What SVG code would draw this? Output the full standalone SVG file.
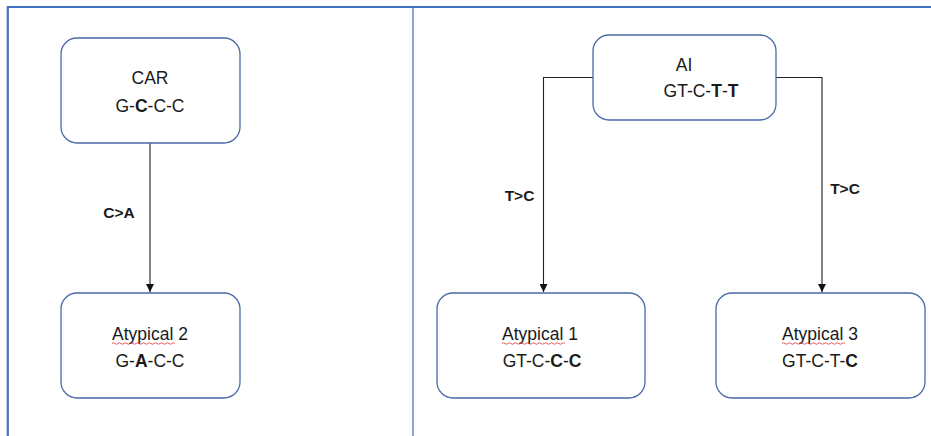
<svg xmlns="http://www.w3.org/2000/svg" width="931" height="436" viewBox="0 0 931 436">
  <style>
    .node { fill: #ffffff; stroke: #4a6aa8; stroke-width: 1.3; }
    .frame { stroke: #4472c4; stroke-width: 2.2; fill: none; }
    .divider { stroke: #6f8fcc; stroke-width: 1.6; fill: none; }
    .edge { stroke: #222222; stroke-width: 1.1; fill: none; }
    text { font-family: "Liberation Sans", Arial, sans-serif; font-size: 17.5px; fill: #1a1a1a; text-anchor: middle; }
    .b { font-weight: bold; }
    .lbl { font-weight: bold; font-size: 15.5px; }
    .squig { stroke: #e03030; stroke-width: 0.8; fill: none; }
  </style>
  <defs>
    <marker id="arrow" viewBox="0 0 10 10" refX="10" refY="5" markerWidth="11" markerHeight="8" orient="auto" markerUnits="userSpaceOnUse">
      <path d="M0,0 L10,5 L0,10 z" fill="#111111"/>
    </marker>
  </defs>

  <rect width="931" height="436" fill="#ffffff"/>

  <!-- page frame and column divider -->
  <path class="frame" d="M7.8,436 V7 H931"/>
  <line class="divider" x1="413" y1="8" x2="413" y2="436"/>

  <!-- connectors -->
  <g id="connectors">
    <line class="edge" x1="150" y1="143" x2="150" y2="292" marker-end="url(#arrow)"/>
    <polyline class="edge" points="593,77.5 543.5,77.5 543.5,292" marker-end="url(#arrow)"/>
    <polyline class="edge" points="776,77.5 822,77.5 822,292" marker-end="url(#arrow)"/>
    <text class="lbl" x="119" y="218">C&gt;A</text>
    <text class="lbl" x="519.5" y="200.5">T&gt;C</text>
    <text class="lbl" x="845" y="193.5">T&gt;C</text>
  </g>

  <g id="car">
    <rect class="node" x="61" y="38" width="179" height="105" rx="16"/>
    <text x="150" y="84">CAR</text>
    <text x="150" y="111.5">G-<tspan class="b">C</tspan>-C-C</text>
  </g>

  <g id="atypical2">
    <rect class="node" x="61" y="293" width="179" height="105" rx="16"/>
    <text x="150" y="340">Atypical 2</text>
    <path class="squig" d="M112,343.5 q1.5,-1.5 3,0 t3,0 t3,0 t3,0 t3,0 t3,0 t3,0 t3,0 t3,0 t3,0 t3,0 t3,0 t3,0 t3,0 t3,0 t3,0 t3,0 t3,0 t3,0 t3,0 t3,0"/>
    <text x="150" y="366.5">G-<tspan class="b">A</tspan>-C-C</text>
  </g>

  <g id="ai">
    <rect class="node" x="593" y="35" width="183" height="85" rx="16"/>
    <text x="684" y="70.5">AI</text>
    <text x="701" y="96.5">GT-C-<tspan class="b">T</tspan>-<tspan class="b">T</tspan></text>
  </g>

  <g id="atypical1">
    <rect class="node" x="437" y="293" width="208" height="105" rx="16"/>
    <text x="540" y="340">Atypical 1</text>
    <path class="squig" d="M502,343.5 q1.5,-1.5 3,0 t3,0 t3,0 t3,0 t3,0 t3,0 t3,0 t3,0 t3,0 t3,0 t3,0 t3,0 t3,0 t3,0 t3,0 t3,0 t3,0 t3,0 t3,0 t3,0 t3,0"/>
    <text x="542" y="366.5">GT-C-<tspan class="b">C</tspan>-<tspan class="b">C</tspan></text>
  </g>

  <g id="atypical3">
    <rect class="node" x="716" y="293" width="209" height="105" rx="16"/>
    <text x="820" y="340">Atypical 3</text>
    <path class="squig" d="M782,343.5 q1.5,-1.5 3,0 t3,0 t3,0 t3,0 t3,0 t3,0 t3,0 t3,0 t3,0 t3,0 t3,0 t3,0 t3,0 t3,0 t3,0 t3,0 t3,0 t3,0 t3,0 t3,0 t3,0"/>
    <text x="820" y="366.5">GT-C-T-<tspan class="b">C</tspan></text>
  </g>
</svg>
